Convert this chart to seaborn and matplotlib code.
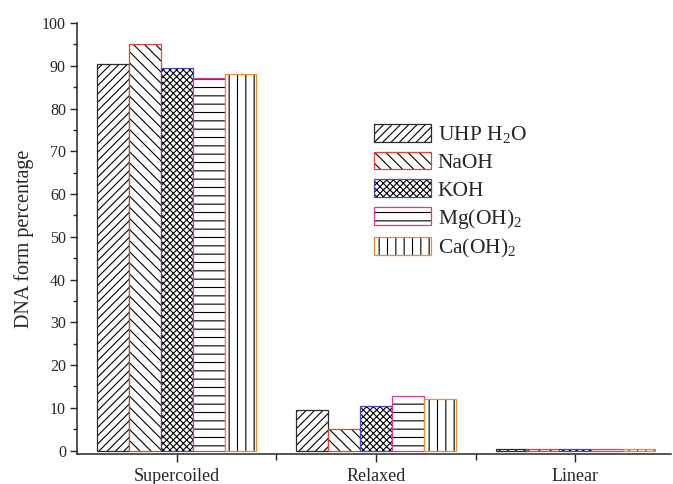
import matplotlib
matplotlib.use('Agg')
import numpy as np
import pandas as pd
import matplotlib.pyplot as plt
from matplotlib.ticker import MultipleLocator, FixedLocator
import seaborn as sns

# values
forms = ['Supercoiled', 'Relaxed', 'Linear']
treatments = ['UHP H$_\\mathrm{2}$O', 'NaOH', 'KOH', 'Mg(OH)$_\\mathrm{2}$', 'Ca(OH)$_\\mathrm{2}$']
uhp = [90.4, 9.6, 0.3]
naoh = [95.0, 5.0, 0.3]
koh = [89.5, 10.5, 0.3]
mgoh = [87.2, 12.7, 0.3]
caoh = [88.0, 12.0, 0.3]

edges = ['#2b2b2b', '#e8412c', '#4646b4', '#e2368e', '#f28a2e']
hatches = ['////', '\\\\\\', 'xxxxx', '--', '||']

rows = []
for name, vals in zip(treatments, [uhp, naoh, koh, mgoh, caoh]):
    for f, v in zip(forms, vals):
        rows.append({'form': f, 'pct': v, 'treatment': name})
df = pd.DataFrame(rows)

sns.set_style('ticks')
plt.rcParams['font.family'] = ['Liberation Serif', 'DejaVu Serif']
plt.rcParams['mathtext.fontset'] = 'custom'
plt.rcParams['mathtext.rm'] = 'Liberation Serif'
plt.rcParams['mathtext.it'] = 'Liberation Serif:italic'
plt.rcParams['hatch.linewidth'] = 0.8

fig = plt.figure(figsize=(6.73, 4.84), dpi=100)
ax = fig.add_axes([77/673, 1-454/484, 594/673, (454-23)/484])

sns.barplot(data=df, x='form', y='pct', hue='treatment', hue_order=treatments,
            order=forms, palette=['white']*5, saturation=1, width=0.8,
            edgecolor='black', linewidth=0.9, legend=False, ax=ax)

for cont, ec, h in zip(ax.containers, edges, hatches):
    for p in cont:
        p.set_hatch(h)
        p.set_edgecolor(ec)
        if hasattr(p, 'set_hatchcolor'):
            p.set_hatchcolor('black')
        else:
            p._hatch_color = (0, 0, 0, 1)

ax.set_xlim(-0.5, 2.48)
ax.set_ylim(-0.8, 100)
ax.yaxis.set_major_locator(MultipleLocator(10))
ax.yaxis.set_minor_locator(MultipleLocator(5))
ax.xaxis.set_minor_locator(FixedLocator([0.5, 1.5]))
ax.tick_params(axis='y', which='major', length=5, width=1, labelsize=11.5, pad=3, direction='out')
ax.tick_params(axis='y', which='minor', length=3, width=1, direction='out')
ax.tick_params(axis='x', which='major', length=6, width=1, labelsize=13, pad=4, direction='out')
ax.tick_params(axis='x', which='minor', length=4, width=1, direction='out')
sns.despine(ax=ax)
for s in ['left', 'bottom']:
    ax.spines[s].set_linewidth(1.1)
ax.set_xlabel('')
ax.set_ylabel('DNA form percentage', fontsize=14.5, labelpad=6)

ax.legend(ax.containers, treatments, loc='upper left',
          bbox_to_anchor=(374/673, 1-124/484), bbox_transform=fig.transFigure,
          frameon=False, borderpad=0, borderaxespad=0, handlelength=2.65,
          handleheight=0.9, handletextpad=0.3, labelspacing=0.29, fontsize=15.5)

fig.savefig('out.png', dpi=100)
